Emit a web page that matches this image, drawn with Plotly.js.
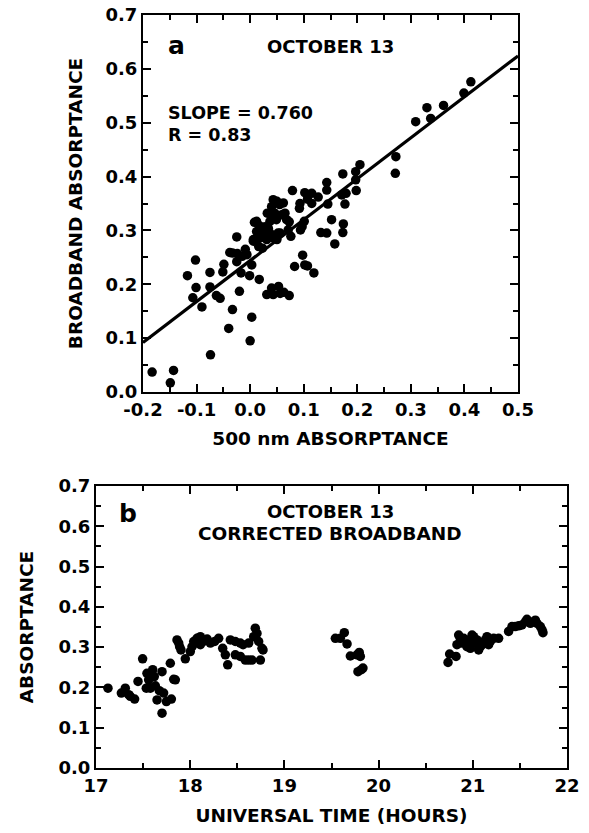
<!DOCTYPE html>
<html>
<head>
<meta charset="utf-8">
<script src="https://cdn.plot.ly/plotly-3.0.1.min.js"></script>
<style>html,body{margin:0;padding:0;background:#fff;}#chart{width:589px;height:833px;}</style>
</head>
<body>
<div id="chart"></div>
<script>
// Panel a: 500 nm absorptance vs broadband absorptance
const absorp500 = [-0.183,-0.149,-0.143,-0.074,-0.040,0.000,0.003,-0.033,-0.090,-0.107,-0.101,-0.117,-0.102,-0.075,-0.075,-0.063,-0.056,-0.051,-0.049,-0.038,-0.033,-0.025,-0.025,-0.020,-0.017,-0.024,-0.015,-0.009,-0.006,-0.001,0.003,0.017,0.006,0.012,0.018,0.015,0.023,0.025,0.031,0.034,0.037,0.032,0.040,0.043,0.046,0.049,0.052,0.055,0.059,0.062,0.068,0.073,0.076,0.079,0.031,0.040,0.043,0.053,0.056,0.063,0.073,0.083,0.098,0.102,0.107,0.119,0.094,0.097,0.101,0.092,0.093,0.102,0.107,0.115,0.115,0.127,0.132,0.143,0.143,0.143,0.145,0.152,0.158,0.173,0.171,0.174,0.173,0.177,0.179,0.197,0.205,0.197,0.198,0.272,0.271,0.309,0.330,0.337,0.361,0.399,0.412,0.008,0.022,0.025,0.006,0.028,0.043,0.050,0.065,0.071,0.056,0.050,0.043,0.012,0.019,0.031,0.037,0.016];
const broadband = [0.037,0.017,0.040,0.069,0.118,0.095,0.139,0.153,0.158,0.175,0.194,0.216,0.245,0.195,0.222,0.179,0.174,0.223,0.237,0.259,0.258,0.288,0.242,0.187,0.221,0.257,0.252,0.265,0.255,0.216,0.236,0.209,0.283,0.317,0.308,0.292,0.267,0.300,0.292,0.304,0.317,0.332,0.344,0.357,0.332,0.320,0.295,0.348,0.329,0.351,0.320,0.316,0.289,0.374,0.181,0.193,0.181,0.196,0.183,0.185,0.179,0.233,0.254,0.236,0.234,0.221,0.301,0.307,0.317,0.341,0.350,0.370,0.358,0.350,0.369,0.362,0.296,0.295,0.389,0.375,0.349,0.320,0.275,0.405,0.366,0.312,0.296,0.349,0.369,0.409,0.422,0.394,0.374,0.437,0.406,0.502,0.528,0.508,0.532,0.555,0.576,0.315,0.295,0.289,0.280,0.307,0.326,0.354,0.332,0.301,0.295,0.283,0.286,0.298,0.286,0.283,0.295,0.270];
const fitSlope = 0.760;
const fitIntercept = 0.244;
const fitRange = [-0.2, 0.5];
const xTickValsA = [-0.2, -0.1, 0.0, 0.1, 0.2, 0.3, 0.4, 0.5];
const xTickTextA = ['-0.2', '-0.1', '0.0', '0.1', '0.2', '0.3', '0.4', '0.5'];

// Panel b: corrected broadband absorptance vs universal time
const utHours = [17.127,17.269,17.311,17.347,17.364,17.410,17.446,17.495,17.534,17.541,17.559,17.577,17.602,17.619,17.630,17.648,17.672,17.701,17.701,17.718,17.747,17.789,17.800,17.825,17.842,17.860,17.878,17.888,17.902,17.948,18.001,18.019,18.037,18.072,18.108,18.108,18.054,18.150,18.180,18.214,18.260,18.302,18.345,18.373,18.398,18.426,18.479,18.532,18.561,18.479,18.532,18.585,18.621,18.656,18.621,18.674,18.691,18.709,18.727,18.762,18.745,18.773,19.541,19.594,19.636,19.665,19.700,19.771,19.795,19.806,19.781,19.817,19.834,20.737,20.754,20.822,20.832,20.850,20.868,20.885,20.903,20.921,20.938,20.956,20.974,20.992,21.009,21.027,21.045,21.062,21.080,21.098,21.115,21.133,21.151,21.168,21.186,21.222,21.274,21.380,21.416,21.451,21.487,21.522,21.558,21.575,21.611,21.646,21.664,21.682,21.717,21.735,21.745];
const correctedAbs = [0.198,0.186,0.198,0.182,0.178,0.171,0.215,0.271,0.198,0.235,0.219,0.198,0.244,0.227,0.204,0.169,0.192,0.239,0.136,0.186,0.165,0.260,0.171,0.220,0.219,0.318,0.310,0.301,0.293,0.271,0.289,0.301,0.314,0.322,0.326,0.306,0.310,0.315,0.320,0.310,0.314,0.322,0.297,0.281,0.256,0.318,0.314,0.310,0.306,0.281,0.277,0.268,0.268,0.268,0.310,0.326,0.347,0.334,0.314,0.297,0.268,0.293,0.322,0.322,0.336,0.308,0.278,0.281,0.287,0.277,0.239,0.244,0.248,0.262,0.283,0.277,0.306,0.330,0.318,0.310,0.322,0.310,0.301,0.318,0.297,0.330,0.326,0.310,0.318,0.293,0.301,0.306,0.310,0.318,0.326,0.306,0.314,0.322,0.322,0.339,0.351,0.351,0.353,0.355,0.363,0.369,0.359,0.363,0.367,0.359,0.351,0.343,0.336];

const FONT = 'DejaVu Sans, Arial, sans-serif';
const W = 589, H = 833;
const px2x = p => p / W;
const px2y = p => 1 - p / H;

const fitX = fitRange;
const fitY = fitRange.map(x => fitIntercept + fitSlope * x);

const marker = {color: '#000', size: 9.5, line: {width: 0}};
const traces = [
  {x: absorp500, y: broadband, mode: 'markers', type: 'scatter', marker, xaxis: 'x', yaxis: 'y', hoverinfo: 'skip'},
  {x: fitX, y: fitY, mode: 'lines', type: 'scatter', line: {color: '#000', width: 3.2}, xaxis: 'x', yaxis: 'y', hoverinfo: 'skip'},
  {x: utHours, y: correctedAbs, mode: 'markers', type: 'scatter', marker, xaxis: 'x2', yaxis: 'y2', hoverinfo: 'skip'}
];

const axisCommon = {
  showgrid: false, zeroline: false, showline: true, linecolor: '#000', linewidth: 2,
  mirror: 'ticks', ticks: 'inside', ticklen: 8, tickwidth: 2, tickcolor: '#000',
  tickfont: {family: FONT, size: 18, color: '#000', weight: 'bold'},
  fixedrange: true
};
const titleFont = {family: FONT, size: 18.5, color: '#000', weight: 'bold'};
const minorCommon = {ticks: 'inside', ticklen: 5, tickwidth: 2, tickcolor: '#000'};

const layout = {
  width: W, height: H,
  margin: {l: 0, r: 0, t: 0, b: 0},
  paper_bgcolor: '#fff', plot_bgcolor: '#fff',
  showlegend: false,
  font: {family: FONT, color: '#000'},
  xaxis: Object.assign({}, axisCommon, {
    domain: [px2x(143), px2x(518)], anchor: 'y', range: [-0.2, 0.5],
    tickmode: 'array', tickvals: xTickValsA, ticktext: xTickTextA,
    minor: Object.assign({dtick: 0.05, tick0: 0}, minorCommon),
    title: {text: '500 nm ABSORPTANCE', font: titleFont, standoff: 13}
  }),
  yaxis: Object.assign({}, axisCommon, {
    domain: [px2y(392), px2y(15)], anchor: 'x', range: [0, 0.7], dtick: 0.1, tick0: 0,
    tickformat: '.1f',
    minor: Object.assign({dtick: 0.05}, minorCommon),
    title: {text: 'BROADBAND ABSORPTANCE', font: titleFont, standoff: 18}
  }),
  xaxis2: Object.assign({}, axisCommon, {
    domain: [px2x(96), px2x(567)], anchor: 'y2', range: [17, 22], dtick: 1, tick0: 17,
    minor: Object.assign({dtick: 0.5}, minorCommon),
    title: {text: 'UNIVERSAL TIME (HOURS)', font: titleFont, standoff: 14}
  }),
  yaxis2: Object.assign({}, axisCommon, {
    domain: [px2y(768), px2y(486)], anchor: 'x2', range: [0, 0.7], dtick: 0.1, tick0: 0,
    tickformat: '.1f',
    minor: Object.assign({dtick: 0.05}, minorCommon),
    title: {text: 'ABSORPTANCE', font: titleFont, standoff: 20}
  }),
  annotations: [
    {xref: 'paper', yref: 'paper', x: px2x(176), y: px2y(45), text: 'a', showarrow: false, xanchor: 'center', yanchor: 'middle', font: {family: FONT, size: 25, weight: 'bold', color: '#000'}},
    {xref: 'paper', yref: 'paper', x: px2x(330), y: px2y(47), text: 'OCTOBER 13', showarrow: false, xanchor: 'center', yanchor: 'middle', font: {family: FONT, size: 18, weight: 'bold', color: '#000'}},
    {xref: 'paper', yref: 'paper', x: px2x(166), y: px2y(113), text: 'SLOPE = 0.760', showarrow: false, xanchor: 'left', yanchor: 'middle', font: {family: FONT, size: 17.5, weight: 'bold', color: '#000'}},
    {xref: 'paper', yref: 'paper', x: px2x(166), y: px2y(135), text: 'R = 0.83', showarrow: false, xanchor: 'left', yanchor: 'middle', font: {family: FONT, size: 17.5, weight: 'bold', color: '#000'}},
    {xref: 'paper', yref: 'paper', x: px2x(128), y: px2y(513), text: 'b', showarrow: false, xanchor: 'center', yanchor: 'middle', font: {family: FONT, size: 25, weight: 'bold', color: '#000'}},
    {xref: 'paper', yref: 'paper', x: px2x(330), y: px2y(512), text: 'OCTOBER 13', showarrow: false, xanchor: 'center', yanchor: 'middle', font: {family: FONT, size: 18, weight: 'bold', color: '#000'}},
    {xref: 'paper', yref: 'paper', x: px2x(330), y: px2y(533), text: 'CORRECTED BROADBAND', showarrow: false, xanchor: 'center', yanchor: 'middle', font: {family: FONT, size: 18.5, weight: 'bold', color: '#000'}}
  ]
};

Plotly.newPlot('chart', traces, layout, {staticPlot: true, displayModeBar: false});
</script>
</body>
</html>
